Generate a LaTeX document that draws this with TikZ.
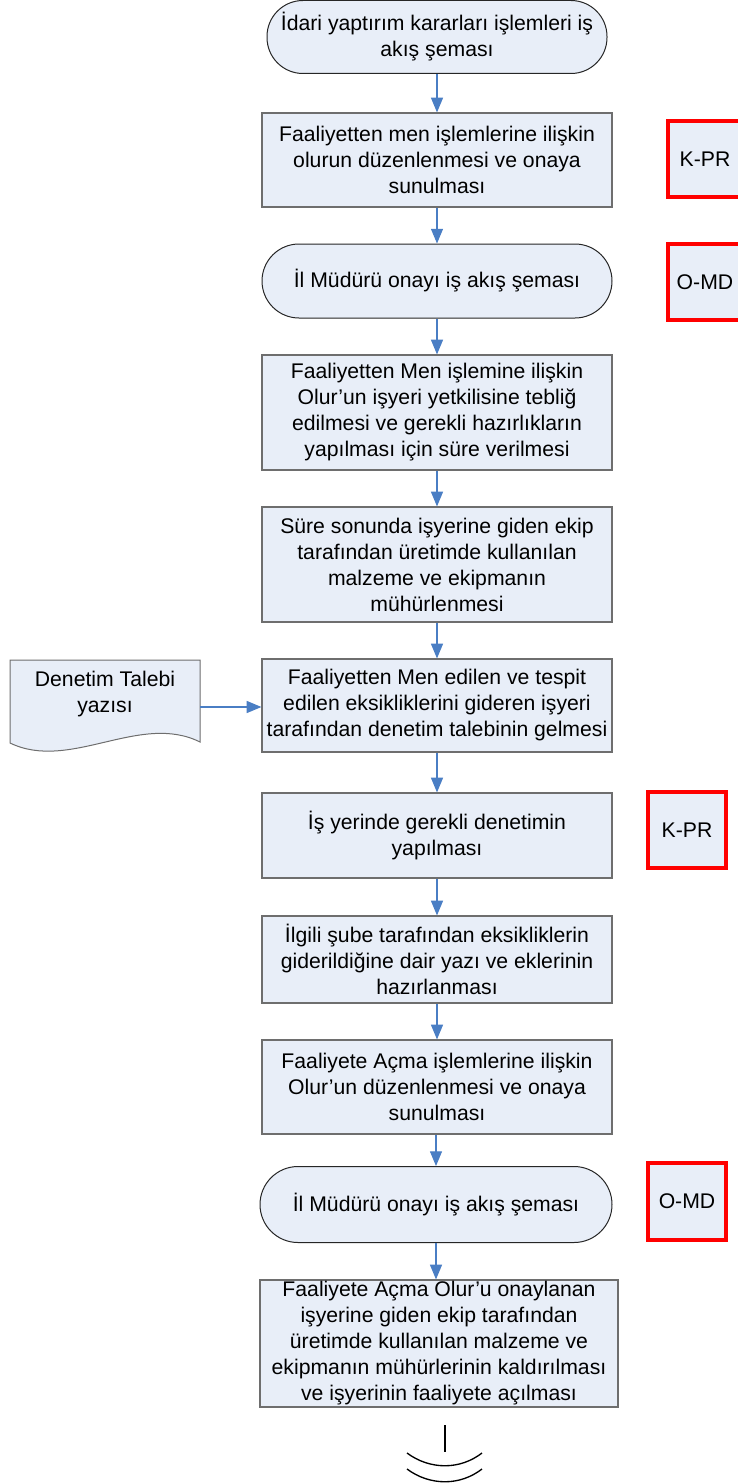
\documentclass[tikz,border=0pt]{standalone}
\usepackage{fontspec}
\setmainfont{Liberation Sans}
\usetikzlibrary{arrows.meta}
\definecolor{boxfill}{HTML}{E8EEF8}
\definecolor{arrowblue}{HTML}{4A7EC4}
\definecolor{boxline}{HTML}{6E6E6E}
\begin{document}
\begin{tikzpicture}[x=0.75pt,y=-0.75pt,
  every node/.style={font=\fontsize{15.9}{19.5}\selectfont, align=center, inner sep=0pt},
  stepbox/.style={draw=boxline, line width=0.9pt, fill=boxfill, minimum width={350*0.75pt}},
  term/.style={draw=black!85, line width=0.75pt, fill=boxfill},
  codebox/.style={draw=red, line width=2.4pt, fill=boxfill},
  flow/.style={draw=arrowblue, line width=0.8pt, -{Triangle[width=9pt,length=11pt]}, arrowblue}]
\useasboundingbox (0,0) rectangle (738,1484);

\node[term, minimum width={340*0.75pt}, minimum height={73*0.75pt}, rounded corners={36*0.75pt}] (t1) at (437,37) {İdari yaptırım kararları işlemleri iş\\akış şeması};
\node[stepbox, minimum height={94*0.75pt}] (b1) at (437,160) {Faaliyetten men işlemlerine ilişkin\\olurun düzenlenmesi ve onaya\\sunulması};
\node[codebox, minimum width={74*0.75pt}, minimum height={76*0.75pt}] (k1) at (705,159) {K-PR};
\node[term, minimum width={350*0.75pt}, minimum height={74*0.75pt}, rounded corners={37*0.75pt}] (t2) at (437,281) {İl Müdürü onayı iş akış şeması};
\node[codebox, minimum width={74*0.75pt}, minimum height={76*0.75pt}] (o1) at (705,282) {O-MD};
\node[stepbox, minimum height={115*0.75pt}] (b3) at (437,412.5) {Faaliyetten Men işlemine ilişkin\\Olur’un işyeri yetkilisine tebliğ\\edilmesi ve gerekli hazırlıkların\\yapılması için süre verilmesi};
\node[stepbox, minimum height={115*0.75pt}] (b4) at (437,564.5) {Süre sonunda işyerine giden ekip\\tarafından üretimde kullanılan\\malzeme ve ekipmanın\\mühürlenmesi};
\node[stepbox, minimum height={93*0.75pt}] (b5) at (437,705.5) {Faaliyetten Men edilen ve tespit\\edilen eksikliklerini gideren işyeri\\tarafından denetim talebinin gelmesi};

% document shape
\draw[draw=boxline, line width=0.75pt, fill=boxfill] (10,660) -- (200,660) -- (200,742) .. controls (140,712) and (70,772) .. (10,743) -- cycle;
\node (doc) at (105,694) {Denetim Talebi\\yazısı};
\coordinate (docout) at (200,707);

\node[stepbox, minimum height={85*0.75pt}] (b6) at (437,835.5) {İş yerinde gerekli denetimin\\yapılması};
\node[codebox, minimum width={78*0.75pt}, minimum height={76*0.75pt}] (k2) at (687,830) {K-PR};
\node[stepbox, minimum height={87*0.75pt}] (b7) at (437,959.5) {İlgili şube tarafından eksikliklerin\\giderildiğine dair yazı ve eklerinin\\hazırlanması};
\node[stepbox, minimum height={94*0.75pt}] (b8) at (437,1087) {Faaliyete Açma işlemlerine ilişkin\\Olur’un düzenlenmesi ve onaya\\sunulması};
\node[term, minimum width={352*0.75pt}, minimum height={76*0.75pt}, rounded corners={38*0.75pt}] (t3) at (436,1204.5) {İl Müdürü onayı iş akış şeması};
\node[codebox, minimum width={78*0.75pt}, minimum height={77*0.75pt}] (o2) at (687,1201.5) {O-MD};
\node[stepbox, minimum width={358*0.75pt}, minimum height={127*0.75pt}] (b9) at (439,1343.5) {Faaliyete Açma Olur’u onaylanan\\işyerine giden ekip tarafından\\üretimde kullanılan malzeme ve\\ekipmanın mühürlerinin kaldırılması\\ve işyerinin faaliyete açılması};

% off-page symbol
\draw[line width=1pt] (445,1425) -- (445,1452);
\draw[line width=1pt] (407,1453) .. controls (430,1470) and (460,1470) .. (482,1453);
\draw[line width=1pt] (407,1469) .. controls (430,1486) and (460,1486) .. (482,1469);

% connectors
\draw[flow] (t1.south) -- (b1.north);
\draw[flow] (b1.south) -- (t2.north);
\draw[flow] (t2.south) -- (b3.north);
\draw[flow] (b3.south) -- (b4.north);
\draw[flow] (b4.south) -- (b5.north);
\draw[flow] (docout) -- (b5.west |- docout);
\draw[flow] (b5.south) -- (b6.north);
\draw[flow] (b6.south) -- (b7.north);
\draw[flow] (b7.south) -- (b8.north);
\draw[flow] (b8.south -| t3.north) -- (t3.north);
\draw[flow] (t3.south) -- (t3.south |- b9.north);
\end{tikzpicture}
\end{document}
